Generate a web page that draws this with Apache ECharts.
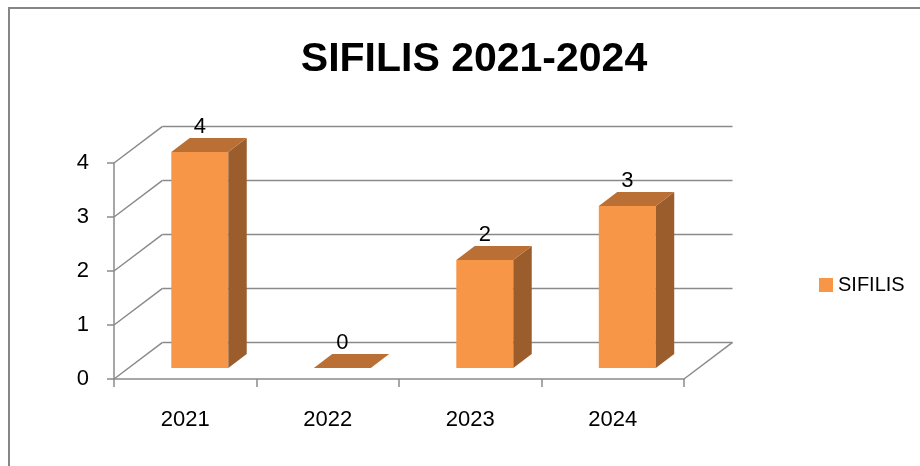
<!DOCTYPE html>
<html>
<head>
<meta charset="utf-8">
<script src="https://cdn.jsdelivr.net/npm/echarts@6/dist/echarts.min.js"></script>
<style>
  html, body { margin: 0; padding: 0; background: #fff; }
  #chart { width: 920px; height: 466px; }
</style>
</head>
<body>
<div id="chart"></div>
<script>
// data
var years = ['2021', '2022', '2023', '2024'];
var cases = [4, 0, 2, 3];
var yTicks = [0, 1, 2, 3, 4];

// fake 3d: depth offset of the floor, and where the bar sits in it
var DX = 48.5, DY = -36.6;
var F1 = 0.3, F2 = 0.68, BAR = 0.4;
var FONT = '"Liberation Sans", Arial, sans-serif';

var myChart = echarts.init(document.getElementById('chart'));

function renderWalls(params, api) {
  var v = api.value(1);
  var cs = params.coordSys;
  var y = api.coord([0, v])[1];
  var x = cs.x;
  var st = { stroke: '#8a8a8a', lineWidth: 1.5 };
  var kids = [
    { type: 'line', shape: { x1: x, y1: y, x2: x + DX, y2: y + DY }, style: st },
    { type: 'line', shape: { x1: x + DX, y1: y + DY, x2: x + cs.width + DX, y2: y + DY }, style: st }
  ];
  if (v === 0) {
    kids.push({ type: 'line', shape: { x1: x + cs.width, y1: y, x2: x + cs.width + DX, y2: y + DY }, style: st });
  }
  return { type: 'group', children: kids };
}

function renderBar(params, api) {
  var cat = api.value(0), v = api.value(1);
  var top = api.coord([cat, v]);
  var base = api.coord([cat, 0]);
  var w = api.size([1, 0])[0] * BAR;
  var x0 = top[0] - w / 2 + DX * F1, x1 = x0 + w;
  var yb = base[1] + DY * F1, yt = top[1] + DY * F1;
  var ddx = DX * (F2 - F1), ddy = DY * (F2 - F1);
  return {
    type: 'group',
    children: [
      { type: 'rect', shape: { x: x0, y: yt, width: w, height: yb - yt }, style: { fill: '#F79646' } },
      { type: 'polygon', shape: { points: [[x1, yb], [x1, yt], [x1 + ddx, yt + ddy], [x1 + ddx, yb + ddy]] }, style: { fill: '#9B5D2B' } },
      { type: 'polygon', shape: { points: [[x0, yt], [x1, yt], [x1 + ddx, yt + ddy], [x0 + ddx, yt + ddy]] }, style: { fill: '#BA6F34' } },
      { type: 'text', x: x0 + w / 2, y: yt + ddy, style: { text: String(v), fill: '#000', font: '22px ' + FONT, textAlign: 'center', textVerticalAlign: 'bottom' } }
    ]
  };
}

var option = {
  animation: false,
  title: {
    text: 'SIFILIS 2021-2024',
    left: 469,
    textAlign: 'center',
    top: 34,
    textStyle: { fontSize: 41, fontWeight: 'bold', color: '#000', fontFamily: FONT }
  },
  legend: {
    data: [{ name: 'SIFILIS', icon: 'rect' }],
    left: 814,
    top: 270,
    itemWidth: 14,
    itemHeight: 14,
    itemGap: 9,
    textStyle: { fontSize: 20, color: '#000', fontFamily: FONT }
  },
  grid: { left: 114, right: 236, top: 163, bottom: 87 },
  xAxis: {
    type: 'category',
    data: years,
    axisLine: { lineStyle: { color: '#8a8a8a', width: 1.5 } },
    axisTick: { show: true, length: 8, lineStyle: { color: '#8a8a8a', width: 1.5 } },
    axisLabel: { margin: 30, fontSize: 22, color: '#000', fontFamily: FONT }
  },
  yAxis: {
    type: 'value',
    min: 0,
    max: 4,
    interval: 1,
    axisLine: { show: true, lineStyle: { color: '#8a8a8a', width: 1.5 } },
    axisTick: { show: true, length: 7, lineStyle: { color: '#8a8a8a', width: 1.5 } },
    splitLine: { show: false },
    axisLabel: { margin: 25, fontSize: 22, color: '#000', fontFamily: FONT }
  },
  graphic: [{
    type: 'rect',
    shape: { x: 9, y: 8, width: 940, height: 490 },
    style: { fill: 'none', stroke: '#868686', lineWidth: 2 },
    silent: true
  }],
  series: [{
    name: 'walls',
    type: 'custom',
    silent: true,
    z: 1,
    renderItem: renderWalls,
    data: yTicks.map(function (v) { return [0, v]; })
  }, {
    name: 'SIFILIS',
    type: 'custom',
    z: 3,
    itemStyle: { color: '#F79646' },
    renderItem: renderBar,
    encode: { x: 0, y: 1 },
    data: years.map(function (y, i) { return [i, cases[i]]; })
  }]
};

myChart.setOption(option);
</script>
</body>
</html>
